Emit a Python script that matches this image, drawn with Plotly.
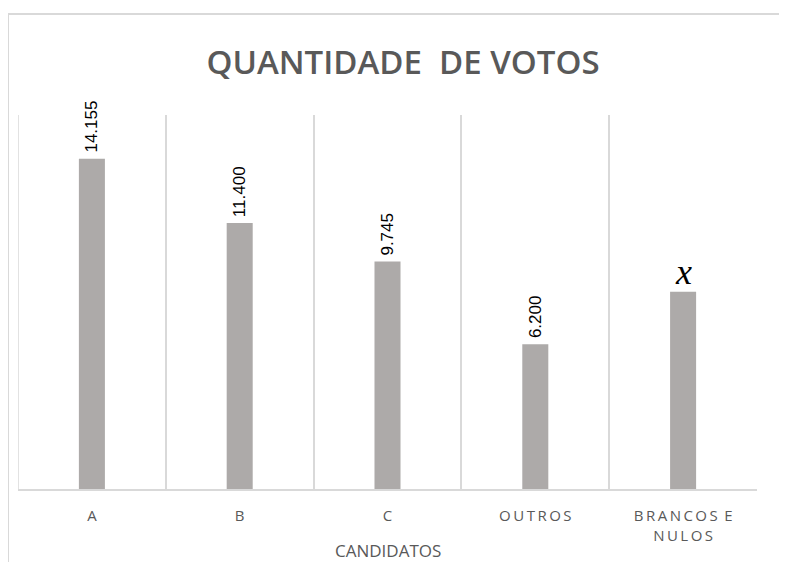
import plotly.graph_objects as go

categories = ["A", "B", "C", "OUTROS", "BRANCOS E NULOS"]
tick_labels = ["A", "B", "C", "O\u2009U\u2009T\u2009R\u2009O\u2009S",
               "B\u2009R\u2009A\u2009N\u2009C\u2009O\u2009S\u2009 E<br>N\u2009U\u2009L\u2009O\u2009S"]
votes = [14155, 11400, 9745, 6200, 8450]
value_labels = ["14.155", "11.400", "9.745", "6.200", "x"]

# page body has an 8px default margin: figure drawn from (8, 8)
OFF = 8
W, H = 787 - OFF, 562 - OFF
L, R, T, B = 18 - OFF, 30, 115 - OFF, 73
pw, ph = W - L - R, H - T - B


def px_x(px):
    return (px - OFF - L) / pw


def px_y(py):
    return (H - B - (py - OFF)) / ph


fig = go.Figure()
fig.add_trace(go.Bar(
    x=categories, y=votes, width=0.176,
    marker=dict(color="#ADAAA9", line=dict(width=0)),
    hoverinfo="skip",
))

annotations = []
for cat, v, lab in zip(categories, votes, value_labels):
    if lab == "x":
        annotations.append(dict(
            x=cat, y=v, xref="x", yref="y", text="<i>x</i>", showarrow=False,
            xanchor="center", yanchor="bottom", yshift=-2,
            font=dict(family="Liberation Serif", size=36, color="#000000"),
        ))
    else:
        annotations.append(dict(
            x=cat, y=v, xref="x", yref="y", text=lab, showarrow=False,
            textangle=-90, xanchor="center", yanchor="bottom", yshift=4,
            font=dict(family="Liberation Sans", size=17, color="#000000"),
        ))

annotations.append(dict(
    x=0.5, y=px_y(550), xref="paper", yref="paper", text="CANDIDATOS",
    showarrow=False, xanchor="center", yanchor="middle",
    font=dict(family="Open Sans", size=17, color="#595959"),
))

shapes = [
    dict(type="line", xref="paper", yref="paper", x0=px_x(8), x1=px_x(790),
         y0=px_y(14), y1=px_y(14), line=dict(color="#D9D9D9", width=2)),
    dict(type="line", xref="paper", yref="paper", x0=px_x(8), x1=px_x(8),
         y0=px_y(14), y1=px_y(565), line=dict(color="#D9D9D9", width=2)),
    # left category boundary line (grid at first boundary)
    dict(type="line", xref="x", yref="paper", x0=-0.5, x1=-0.5, y0=0, y1=1,
         line=dict(color="#D9D9D9", width=1.5)),
]

fig.update_layout(
    width=W, height=H,
    margin=dict(l=L, r=R, t=T, b=B),
    paper_bgcolor="white", plot_bgcolor="white",
    showlegend=False,
    title=dict(
        text="QUANTIDADE  DE VOTOS",
        x=(403 - OFF) / W, xref="container", xanchor="center",
        y=1 - (62 - OFF) / H, yref="container", yanchor="middle",
        font=dict(family="Open Sans", size=33, color="#595959", weight=600),
    ),
    xaxis=dict(
        type="category", tickson="boundaries", showgrid=True,
        gridcolor="#D9D9D9", gridwidth=1.5,
        showline=True, linecolor="#D9D9D9", linewidth=2,
        ticks="", tickmode="array", tickvals=categories, ticktext=tick_labels,
        tickfont=dict(family="Open Sans", size=15, color="#595959"),
        ticklabelstandoff=12,
        range=[-0.5, len(categories) - 0.5],
    ),
    yaxis=dict(visible=False, range=[0, 16025], showgrid=False, zeroline=False),
    annotations=annotations,
    shapes=shapes,
)

fig.write_html("out.html")
